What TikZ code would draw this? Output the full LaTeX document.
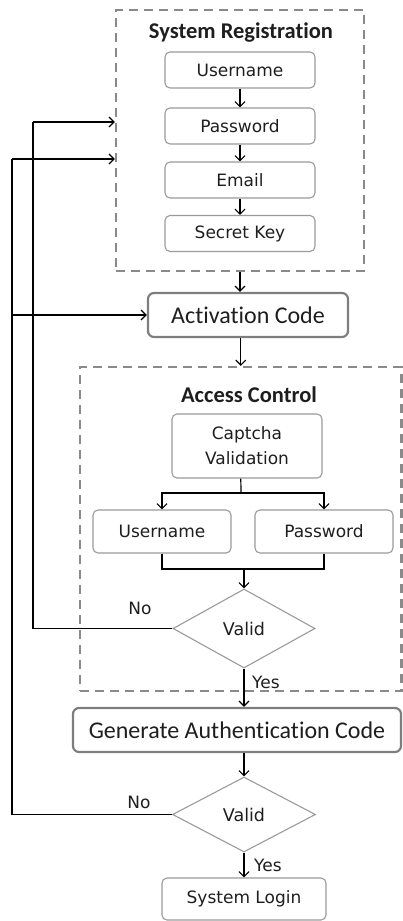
\documentclass[tikz,border=0pt]{standalone}
\usepackage{fontspec}
\setmainfont{Carlito}[Ligatures={NoCommon}]
\newfontfamily\boxfont{DejaVu Sans}
\usetikzlibrary{arrows.meta,shapes.geometric}
\definecolor{dashgray}{HTML}{8A8A8A}
\definecolor{boxgray}{HTML}{9A9A9A}
\definecolor{framegray}{HTML}{7E7E7E}
\definecolor{txt}{HTML}{1E1E1E}
\begin{document}
\begin{tikzpicture}[x=1pt,y=-1pt,
  group/.style={draw=dashgray, line width=2.2pt, dash pattern=on 9pt off 6pt, inner sep=0pt},
  smallbox/.style={draw=boxgray, line width=1.1pt, rounded corners=5pt, inner sep=0pt,
    minimum width=150pt, minimum height=36pt, text=txt,
    font=\boxfont\fontsize{17}{25}\selectfont, align=center},
  bigbox/.style={draw=framegray, line width=2.2pt, rounded corners=6pt, inner sep=0pt,
    minimum height=44pt, text=txt, font=\fontsize{24}{28}\selectfont},
  decision/.style={diamond, draw=boxgray, line width=1.1pt, inner sep=0pt, text=txt,
    font=\boxfont\fontsize{17.5}{20}\selectfont},
  title/.style={text=txt, inner sep=0pt, font=\bfseries\fontsize{22.5}{26}\selectfont},
  lbl/.style={text=txt, inner sep=0pt, font=\boxfont\fontsize{17}{20}\selectfont},
  link/.style={line width=1.2pt, black},
  arr/.style={link, -{Straight Barb[length=5pt,width=10pt]}}]
\useasboundingbox (0,0) rectangle (403,921);

% dashed group frames
\node[group, minimum width=248pt, minimum height=261pt] (reg) at (240,140.5) {};
\node[group, minimum width=321.5pt, minimum height=324pt] (ac) at (240.8,529) {};

% system registration
\node[title] (regt) at (241,33) {System Registration};
\node[smallbox] (user) at (240,70) {Username};
\node[smallbox] (pass) at (240,126) {Password};
\node[smallbox] (mail) at (240,180) {Email};
\node[smallbox] (key) at (240,233.5) {Secret Key};

% activation
\node[bigbox, minimum width=200pt] (act) at (248,315) {Activation Code};

% access control
\node[title] (act2) at (249,395) {Access Control};
\node[smallbox, minimum height=64pt] (cap) at (247,446) {Captcha\\Validation};
\node[smallbox, minimum width=138pt, minimum height=43pt] (user2) at (162,531.5) {Username};
\node[smallbox, minimum width=138pt, minimum height=43pt] (pass2) at (324,531.5) {Password};
\node[decision, minimum width=142pt, minimum height=79pt] (v1) at (244,628.5) {Valid};

% authentication
\node[bigbox, minimum width=328pt] (gen) at (237,730) {Generate Authentication Code};
\node[decision, minimum width=143pt, minimum height=75pt] (v2) at (244,814.5) {Valid};
\node[smallbox, minimum width=164pt, minimum height=42pt] (login) at (244,899) {System Login};

% labels
\node[lbl] (no1) at (140,608) {No};
\node[lbl] (no2) at (139,802) {No};
\node[lbl, anchor=west] (yes1) at (252,682) {Yes};
\node[lbl, anchor=west] (yes2) at (254,865) {Yes};

% flow inside registration
\draw[arr] (user) -- (pass);
\draw[arr] (pass) -- (mail);
\draw[arr] (mail) -- (key);
\draw[arr] (reg.south) -- (reg.south |- act.north);
\draw[arr] (ac.north |- act.south) -- (ac.north);

% captcha split and merge
\coordinate (split) at (241,493);
\coordinate (merge) at (244,569);
\draw[link] (ac.north |- cap.south) -- (split);
\draw[arr] (split) -| (user2.north);
\draw[arr] (split) -| (pass2.north);
\draw[link] (user2.south) |- (merge);
\draw[link] (pass2.south) |- (merge);
\draw[arr] (merge) -- (v1.north);

% main line down
\draw[arr] (v1.south) -- (v1.south |- gen.north);
\draw[arr] (v2.north |- gen.south) -- (v2.north);
\draw[arr] (v2.south) -- (login.north);

% feedback loops
\coordinate (turnA) at (33,122);
\coordinate (turnB) at (12,159);
\draw[link] (v1.west) -| (turnA);
\draw[arr] (turnA) -- (reg.west |- turnA);
\draw[link] (v2.west) -| (turnB);
\draw[arr] (turnB) -- (reg.west |- turnB);
\draw[arr] (turnB |- act.west) -- (act.west);
\end{tikzpicture}
\end{document}
